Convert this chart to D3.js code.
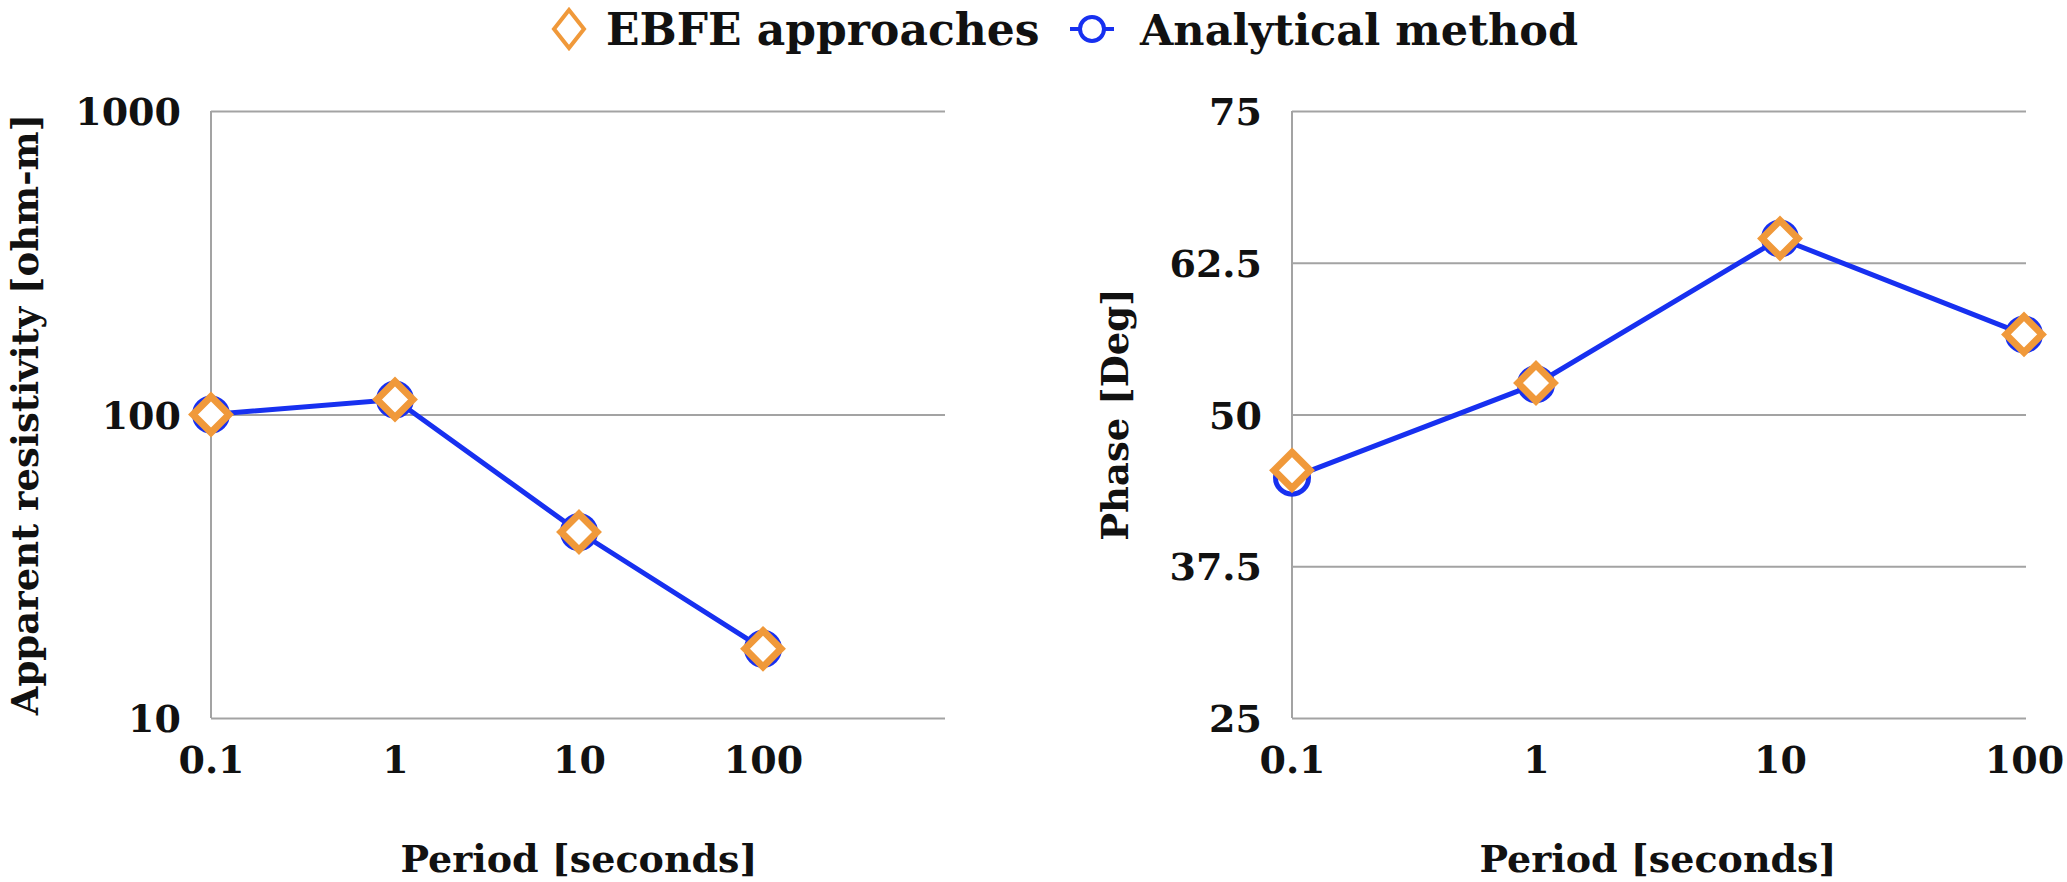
<!DOCTYPE html>
<html>
<head>
<meta charset="utf-8">
<script src="https://cdn.jsdelivr.net/npm/d3@7"></script>
<style>
  body { margin: 0; background: #fff; }
  text { font-family: "DejaVu Serif", serif; font-weight: bold; fill: #111; }
</style>
</head>
<body>
<svg id="chart" width="2067" height="882"></svg>
<script>
// data
var periods = [0.1, 1, 10, 100];
var rhoAnalytical = [100, 112, 41, 16.9];
var rhoEbfe = [100, 112, 41, 16.9];
var phaseAnalytical = [44.8, 52.5, 64.5, 56.6];
var phaseEbfe = [45.4, 52.6, 64.5, 56.6];
var rhoTicks = [10, 100, 1000];
var phaseTicks = [25, 37.5, 50, 62.5, 75];
var periodTicks = [0.1, 1, 10, 100];

var blue = "#1730f0";
var orange = "#f0993a";
var grid = "#a3a3a3";

var svg = d3.select("#chart");

var top_ = 111, bottom = 718;

// left panel
var x1 = d3.scaleLog().domain([0.1, 1000]).range([211, 947]);
var y1 = d3.scaleLog().domain([10, 1000]).range([bottom, top_]);

// right panel
var x2 = d3.scaleLog().domain([0.1, 100]).range([1292, 2024]);
var y2 = d3.scaleLinear().domain([25, 75]).range([bottom, top_]);

function panel(x, y, yTicks, yFmt, xEnd, an, eb, yTitle, yTitleX) {
    var g = svg.append("g");

    var gy = g.append("g")
        .attr("transform", "translate(" + x.range()[0] + ",0)")
        .call(d3.axisLeft(y).tickValues(yTicks).tickFormat(yFmt)
            .tickSize(-(xEnd - x.range()[0])).tickPadding(30));
    gy.select(".domain").remove();
    gy.selectAll("line").attr("stroke", grid).attr("stroke-width", 2);
    gy.selectAll("text").style("font-size", "38px").attr("dy", "0.36em");

    g.append("line")
        .attr("x1", x.range()[0]).attr("x2", x.range()[0])
        .attr("y1", top_).attr("y2", bottom)
        .attr("stroke", grid).attr("stroke-width", 2);

    var gx = g.append("g")
        .attr("transform", "translate(0," + bottom + ")")
        .call(d3.axisBottom(x).tickValues(periodTicks).tickFormat(d => String(d))
            .tickSize(0).tickPadding(28));
    gx.select(".domain").remove();
    gx.selectAll("text").style("font-size", "38px").attr("dy", "0.71em");

    g.append("text")
        .attr("x", (x.range()[0] + x.range()[1]) / 2)
        .attr("y", 872)
        .attr("text-anchor", "middle")
        .style("font-size", "38px")
        .text("Period [seconds]");

    g.append("text")
        .attr("transform", "translate(" + yTitleX + "," + (top_ + bottom) / 2 + ") rotate(-90)")
        .attr("text-anchor", "middle")
        .style("font-size", "37px")
        .text(yTitle);

    var line = d3.line().x((d, i) => x(periods[i])).y(d => y(d));

    g.append("path")
        .datum(an)
        .attr("d", line)
        .attr("fill", "none")
        .attr("stroke", blue)
        .attr("stroke-width", 5);

    g.selectAll(".circ")
        .data(an)
        .enter()
        .append("circle")
        .attr("class", "circ")
        .attr("cx", (d, i) => x(periods[i]))
        .attr("cy", d => y(d))
        .attr("r", 16.5)
        .attr("fill", "#fff")
        .attr("stroke", blue)
        .attr("stroke-width", 5);

    g.selectAll(".diam")
        .data(eb)
        .enter()
        .append("path")
        .attr("class", "diam")
        .attr("d", "M0,-18L18,0L0,18L-18,0Z")
        .attr("transform", (d, i) => "translate(" + x(periods[i]) + "," + y(d) + ")")
        .attr("fill", "#fff")
        .attr("stroke", orange)
        .attr("stroke-width", 7)
        .attr("stroke-linejoin", "miter");
}

panel(x1, y1, rhoTicks, d => String(d), 945, rhoAnalytical, rhoEbfe,
    "Apparent resistivity [ohm-m]", 38);
panel(x2, y2, phaseTicks, d => String(d), 2026, phaseAnalytical, phaseEbfe,
    "Phase [Deg]", 1128);

// legend
var leg = svg.append("g");
leg.append("path")
    .attr("d", "M0,-19L15,0L0,19L-15,0Z")
    .attr("transform", "translate(569,29)")
    .attr("fill", "#fff")
    .attr("stroke", orange)
    .attr("stroke-width", 4);
leg.append("text")
    .attr("x", 606).attr("y", 45)
    .style("font-size", "44px")
    .text("EBFE approaches");
leg.append("line")
    .attr("x1", 1070).attr("x2", 1114)
    .attr("y1", 29).attr("y2", 29)
    .attr("stroke", blue).attr("stroke-width", 4);
leg.append("circle")
    .attr("cx", 1092).attr("cy", 29).attr("r", 12)
    .attr("fill", "#fff")
    .attr("stroke", blue).attr("stroke-width", 4);
leg.append("text")
    .attr("x", 1140).attr("y", 45)
    .style("font-size", "43px")
    .text("Analytical method");
</script>
</body>
</html>
